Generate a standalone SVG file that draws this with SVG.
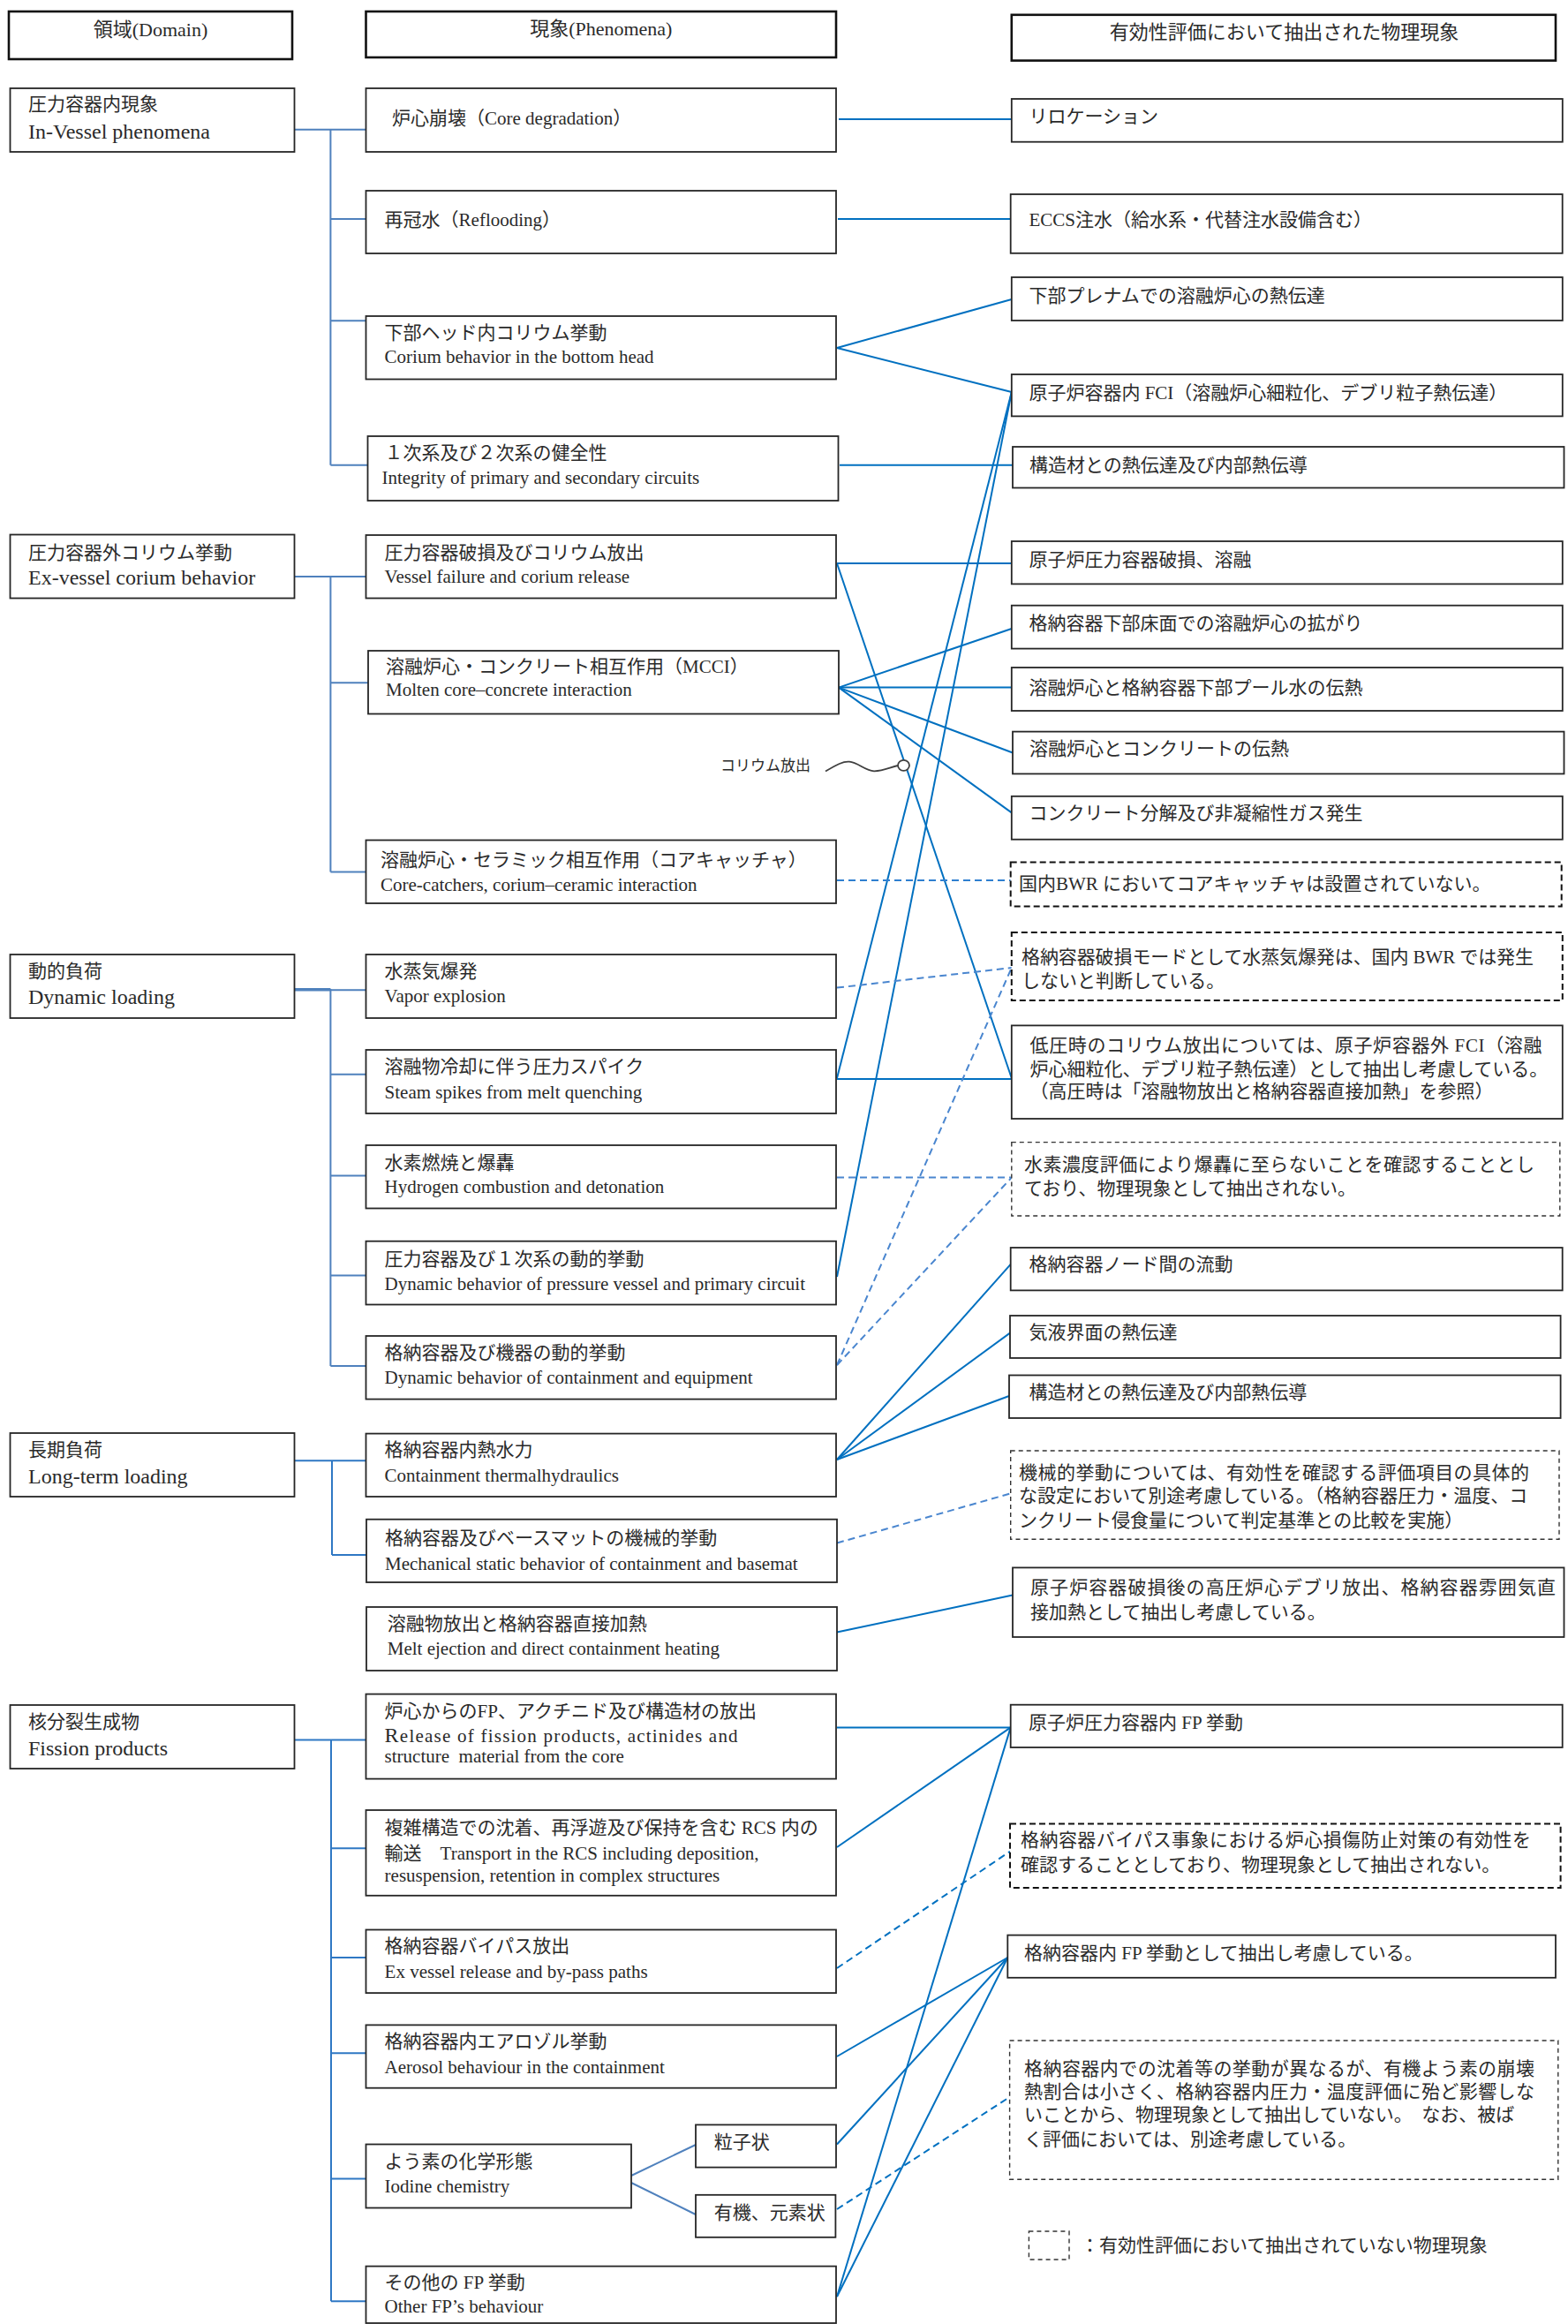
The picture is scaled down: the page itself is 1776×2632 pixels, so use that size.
<svg xmlns="http://www.w3.org/2000/svg" width="1776" height="2632" viewBox="0 0 1776 2632">
<style>
text{font-family:"Liberation Serif","Noto Sans CJK JP",serif;fill:#2a2a2a}
.b{fill:#fff;stroke:#262626;stroke-width:1.8}
.h{fill:#fff;stroke:#111;stroke-width:2.6}
.db{fill:#fff;stroke:#111;stroke-width:2;stroke-dasharray:7 4}
.df{fill:#fff;stroke:#333;stroke-width:1.4;stroke-dasharray:5 4}
.j{font-size:21px}
.dj{font-size:21px}
.de{font-size:24px}
.e{font-size:21px}
.s{font-size:17px}
.hd{font-size:22px;text-anchor:middle}
.t1{stroke:#4f81bd;stroke-width:2;fill:none}
.t2{stroke:#2f78c4;stroke-width:2;fill:none}
.c{stroke:#0070c0;stroke-width:2;fill:none}
.cd{stroke:#0070c0;stroke-width:2;fill:none;stroke-dasharray:8 5}
.cl{stroke:#4a86cf;stroke-width:2;fill:none;stroke-dasharray:8 5}
</style>

<g id="connectors">
<!-- tree lines -->
<path class="t1" d="M333.5 146.8H414.5M374.4 146.8V526.8M374.4 247.9H414.5M374.4 363.2H414.5M374.4 526.8H416.5"/>
<path class="t1" d="M333.5 652.9H414.5M374.4 652.9V987.5M374.4 773.2H417M374.4 987.5H414.5"/>
<path class="t1" d="M333.5 1120.7H374.4" style="stroke-width:3.5"/>
<path class="t1" d="M374.4 1121.3H414.5M374.4 1120V1547M374.4 1216.8H414.5M374.4 1331.4H414.5M374.4 1444.6H414.5M374.4 1547H414.5"/>
<path class="t2" d="M333.5 1654.3H414.5M376 1654.3V1761M376 1761H415"/>
<path class="t2" d="M333.5 1970.4H414.5M375 1970.4V2606.3M375 2093.2H414.5M375 2217H414.5M375 2325.3H414.5M375 2467.5H414.5M375 2606.3H414.5"/>
<path class="t1" d="M715 2464L788 2429M715 2472L788 2508"/>
<!-- solid connectors -->
<path class="c" d="M950 135H1145.8"/>
<path class="c" d="M949 247.9H1144.7"/>
<path class="c" d="M948 394L1145.8 339"/>
<path class="c" d="M948 394L1145.8 444"/>
<path class="c" d="M951 526.8H1147"/>
<path class="c" d="M948 638H1145.8"/>
<path class="c" d="M948 638L1145.8 1221"/>
<path class="c" d="M950 778.6L1145.8 712"/>
<path class="c" d="M950 778.6H1145.8"/>
<path class="c" d="M950 778.6L1147 852.5"/>
<path class="c" d="M950 778.6L1145.8 920.4"/>
<path class="c" d="M948 1221L1145.8 444"/>
<path class="c" d="M948 1222H1145.8"/>
<path class="c" d="M948 1446L1145.8 444"/>
<path class="c" d="M948 1653L1144.7 1431.8"/>
<path class="c" d="M948 1653L1144 1509.6"/>
<path class="c" d="M948 1653L1143 1581"/>
<path class="c" d="M948 1848.6L1147 1806.4"/>
<path class="c" d="M948 1956.4H1144.7"/>
<path class="c" d="M948 2092L1144.7 1956.4"/>
<path class="c" d="M948 2601L1144.7 1956.4"/>
<path class="c" d="M948 2329L1141.3 2217"/>
<path class="c" d="M948 2428.5L1141.3 2217"/>
<path class="c" d="M948 2601L1141.3 2217"/>
<!-- dashed connectors -->
<path class="cd" d="M948 997H1144.7" style="stroke:#2f7fd0"/>
<path class="cl" d="M948 1118.6L1145.8 1096"/>
<path class="cl" d="M948 1546L1145.8 1096"/>
<path class="cl" d="M948 1333.6H1145.8"/>
<path class="cl" d="M948 1546L1145.8 1333.6"/>
<path class="cl" d="M948 1747.5L1144.7 1691.4"/>
<path class="cd" d="M948 2229L1144 2096.8"/>
<path class="cd" d="M948 2502L1143.6 2374.9"/>
</g>

<g id="corium-release-note">
<text class="s" x="816" y="873">コリウム放出</text>
<path d="M935 873.5C948 866 955 862 962 862.7C972 863.5 980 873 990 873.3C1000 873.5 1008 869 1017 867" fill="none" stroke="#404040" stroke-width="1.8"/>
<ellipse cx="1023.5" cy="866.8" rx="6.5" ry="6" fill="#fff" stroke="#404040" stroke-width="1.8"/>
</g>

<!-- headers -->
<g id="hdr-domain"><rect class="h" x="10" y="13" width="321" height="54"/><text class="hd" x="170.5" y="41">領域(Domain)</text></g>
<g id="hdr-phenomena"><rect class="h" x="414.5" y="13" width="532.5" height="52"/><text class="hd" x="680.8" y="40">現象(Phenomena)</text></g>
<g id="hdr-extracted"><rect class="h" x="1145.8" y="16.8" width="616.2" height="51.8"/><text class="hd" x="1454.5" y="44">有効性評価において抽出された物理現象</text></g>

<!-- domains -->
<g id="d-invessel"><rect class="b" x="11.5" y="100" width="322" height="72"/><text class="dj" x="32" y="125">圧力容器内現象</text><text class="de" x="32" y="157">In-Vessel phenomena</text></g>
<g id="d-exvessel"><rect class="b" x="11.5" y="605.5" width="322" height="72"/><text class="dj" x="32" y="633">圧力容器外コリウム挙動</text><text class="de" x="32" y="662">Ex-vessel corium behavior</text></g>
<g id="d-dynamic"><rect class="b" x="11.5" y="1081" width="322" height="72"/><text class="dj" x="32" y="1107">動的負荷</text><text class="de" x="32" y="1137">Dynamic loading</text></g>
<g id="d-longterm"><rect class="b" x="11.5" y="1623" width="322" height="72"/><text class="dj" x="32" y="1648.5">長期負荷</text><text class="de" x="32" y="1680">Long-term loading</text></g>
<g id="d-fp"><rect class="b" x="11.5" y="1931" width="322" height="72"/><text class="dj" x="32" y="1956.5">核分裂生成物</text><text class="de" x="32" y="1988">Fission products</text></g>

<!-- phenomena -->
<g id="p-core-degradation"><rect class="b" x="414.5" y="100" width="532.5" height="72"/><text class="j" x="444" y="141">炉心崩壊（Core degradation）</text></g>
<g id="p-reflooding"><rect class="b" x="414.5" y="216" width="532.5" height="71"/><text class="j" x="435.6" y="256">再冠水（Reflooding）</text></g>
<g id="p-bottom-head"><rect class="b" x="414.5" y="358" width="532.5" height="71.5"/><text class="j" x="435.6" y="384">下部ヘッド内コリウム挙動</text><text class="e" x="435.6" y="411">Corium behavior in the bottom head</text></g>
<g id="p-integrity"><rect class="b" x="416.5" y="494" width="533" height="73"/><text class="j" x="435.6" y="520">１次系及び２次系の健全性</text><text class="e" x="432.4" y="548">Integrity of primary and secondary circuits</text></g>
<g id="p-vessel-failure"><rect class="b" x="414.5" y="606" width="532.5" height="71.5"/><text class="j" x="435.6" y="633">圧力容器破損及びコリウム放出</text><text class="e" x="435.6" y="660">Vessel failure and corium release</text></g>
<g id="p-mcci"><rect class="b" x="417" y="737" width="533" height="71.5"/><text class="j" x="437" y="761.5">溶融炉心・コンクリート相互作用（MCCI）</text><text class="e" x="437" y="788">Molten core–concrete interaction</text></g>
<g id="p-core-catcher"><rect class="b" x="414.5" y="951.5" width="532.5" height="71.5"/><text class="j" x="431" y="981">溶融炉心・セラミック相互作用（コアキャッチャ）</text><text class="e" x="431" y="1009">Core-catchers, corium–ceramic interaction</text></g>
<g id="p-vapor-explosion"><rect class="b" x="414.5" y="1081" width="532.5" height="72"/><text class="j" x="435.6" y="1107">水蒸気爆発</text><text class="e" x="435.6" y="1135">Vapor explosion</text></g>
<g id="p-steam-spikes"><rect class="b" x="414.5" y="1189" width="532.5" height="72"/><text class="j" x="435.6" y="1215">溶融物冷却に伴う圧力スパイク</text><text class="e" x="435.6" y="1244">Steam spikes from melt quenching</text></g>
<g id="p-hydrogen"><rect class="b" x="414.5" y="1297" width="532.5" height="71.5"/><text class="j" x="435.6" y="1323.5">水素燃焼と爆轟</text><text class="e" x="435.6" y="1351">Hydrogen combustion and detonation</text></g>
<g id="p-dyn-vessel"><rect class="b" x="414.5" y="1405.7" width="532.5" height="71.8"/><text class="j" x="435.6" y="1433">圧力容器及び１次系の動的挙動</text><text class="e" x="435.6" y="1460.5">Dynamic behavior of pressure vessel and primary circuit</text></g>
<g id="p-dyn-containment"><rect class="b" x="414.5" y="1513" width="532.5" height="71.6"/><text class="j" x="435.6" y="1539">格納容器及び機器の動的挙動</text><text class="e" x="435.6" y="1567">Dynamic behavior of containment and equipment</text></g>
<g id="p-thermalhydraulics"><rect class="b" x="414.5" y="1623.6" width="532.5" height="71.4"/><text class="j" x="435.6" y="1649">格納容器内熱水力</text><text class="e" x="435.6" y="1677.5">Containment thermalhydraulics</text></g>
<g id="p-mechanical"><rect class="b" x="415" y="1720.7" width="533" height="71.3"/><text class="j" x="436" y="1748.5">格納容器及びベースマットの機械的挙動</text><text class="e" x="436" y="1777.5">Mechanical static behavior of containment and basemat</text></g>
<g id="p-dch"><rect class="b" x="415" y="1820" width="533" height="72"/><text class="j" x="438.8" y="1845.5">溶融物放出と格納容器直接加熱</text><text class="e" x="438.8" y="1874">Melt ejection and direct containment heating</text></g>
<g id="p-fp-release"><rect class="b" x="414.5" y="1918.6" width="532.5" height="96"/><text class="j" x="435.6" y="1945">炉心からのFP、アクチニド及び構造材の放出</text><text class="e" x="435.6" y="1973" textLength="400" lengthAdjust="spacing"><tspan style="font-size:24px">R</tspan>elease of fission products, actinides and</text><text class="e" x="435.6" y="1996" style="white-space:pre">structure  material from the core</text></g>
<g id="p-rcs-transport"><rect class="b" x="414.5" y="2050" width="532.5" height="96.8"/><text class="j" x="435.6" y="2077">複雑構造での沈着、再浮遊及び保持を含む RCS 内の</text><text class="j" x="435.6" y="2105.5">輸送　<tspan class="e">Transport in the RCS including deposition,</tspan></text><text class="e" x="435.6" y="2130.5">resuspension, retention in complex structures</text></g>
<g id="p-bypass"><rect class="b" x="414.5" y="2185.5" width="532.5" height="71.6"/><text class="j" x="435.6" y="2210.5">格納容器バイパス放出</text><text class="e" x="435.6" y="2240">Ex vessel release and by-pass paths</text></g>
<g id="p-aerosol"><rect class="b" x="414.5" y="2293.4" width="532.5" height="71.3"/><text class="j" x="435.6" y="2319">格納容器内エアロゾル挙動</text><text class="e" x="435.6" y="2348">Aerosol behaviour in the containment</text></g>
<g id="p-iodine"><rect class="b" x="414.5" y="2428.5" width="300.5" height="72"/><text class="j" x="435.6" y="2455">よう素の化学形態</text><text class="e" x="435.6" y="2483">Iodine chemistry</text></g>
<g id="p-iodine-particulate"><rect class="b" x="788" y="2406.4" width="159" height="48.2"/><text class="j" x="808.7" y="2433">粒子状</text></g>
<g id="p-iodine-organic"><rect class="b" x="788" y="2485.8" width="158.4" height="48"/><text class="j" x="808.7" y="2513">有機、元素状</text></g>
<g id="p-other-fp"><rect class="b" x="414.5" y="2566.6" width="532.5" height="64.4"/><text class="j" x="435.6" y="2592">その他の FP 挙動</text><text class="e" x="435.6" y="2618.5">Other FP’s behaviour</text></g>

<!-- extracted phenomena -->
<g id="r-relocation"><rect class="b" x="1145.8" y="112" width="624" height="48.7"/><text class="j" x="1165.4" y="139">リロケーション</text></g>
<g id="r-eccs"><rect class="b" x="1144.7" y="220" width="625" height="66.8"/><text class="j" x="1165.4" y="256">ECCS注水（給水系・代替注水設備含む）</text></g>
<g id="r-lower-plenum"><rect class="b" x="1145.8" y="314" width="624" height="49"/><text class="j" x="1165.4" y="341.6">下部プレナムでの溶融炉心の熱伝達</text></g>
<g id="r-invessel-fci"><rect class="b" x="1145.8" y="424" width="624" height="47.4"/><text class="j" x="1165.4" y="452">原子炉容器内 FCI（溶融炉心細粒化、デブリ粒子熱伝達）</text></g>
<g id="r-structure-heat"><rect class="b" x="1147" y="506" width="624.5" height="46.5"/><text class="j" x="1166" y="534">構造材との熱伝達及び内部熱伝導</text></g>
<g id="r-rpv-failure"><rect class="b" x="1145.8" y="613" width="624" height="48.4"/><text class="j" x="1165.4" y="641">原子炉圧力容器破損、溶融</text></g>
<g id="r-spreading"><rect class="b" x="1145.8" y="685.7" width="624" height="48.9"/><text class="j" x="1165.4" y="713">格納容器下部床面での溶融炉心の拡がり</text></g>
<g id="r-pool-heat"><rect class="b" x="1145.8" y="756" width="624" height="49"/><text class="j" x="1165.4" y="786">溶融炉心と格納容器下部プール水の伝熱</text></g>
<g id="r-concrete-heat"><rect class="b" x="1147" y="828.6" width="624.5" height="47.8"/><text class="j" x="1166" y="855">溶融炉心とコンクリートの伝熱</text></g>
<g id="r-concrete-gas"><rect class="b" x="1145.8" y="901.8" width="624" height="48.9"/><text class="j" x="1165.4" y="928">コンクリート分解及び非凝縮性ガス発生</text></g>
<g id="r-no-core-catcher"><rect class="db" x="1144.7" y="976.4" width="624" height="50"/><text class="j" x="1154" y="1008">国内BWR においてコアキャッチャは設置されていない。</text></g>
<g id="r-no-steam-explosion"><rect class="db" x="1145.8" y="1056" width="624" height="77"/><text class="j" x="1157" y="1091" textLength="580" lengthAdjust="spacing">格納容器破損モードとして水蒸気爆発は、国内 BWR では発生</text><text class="j" x="1157" y="1117.5">しないと判断している。</text></g>
<g id="r-exvessel-fci"><rect class="b" x="1145.8" y="1161.4" width="624" height="105.6"/><text class="j" x="1166.5" y="1190.5" textLength="580" lengthAdjust="spacing">低圧時のコリウム放出については、原子炉容器外 FCI（溶融</text><text class="j" x="1166.5" y="1218">炉心細粒化、デブリ粒子熱伝達）として抽出し考慮している。</text><text class="j" x="1166.5" y="1243">（高圧時は「溶融物放出と格納容器直接加熱」を参照）</text></g>
<g id="r-no-detonation"><rect class="df" x="1145.8" y="1293.6" width="621" height="83.4"/><text class="j" x="1160" y="1325.5" textLength="578" lengthAdjust="spacing">水素濃度評価により爆轟に至らないことを確認することとし</text><text class="j" x="1160" y="1353">ており、物理現象として抽出されない。</text></g>
<g id="r-node-flow"><rect class="b" x="1144.7" y="1413" width="625" height="48.4"/><text class="j" x="1165.4" y="1439">格納容器ノード間の流動</text></g>
<g id="r-interface-heat"><rect class="b" x="1144" y="1490" width="623.6" height="48"/><text class="j" x="1165.4" y="1515.5">気液界面の熱伝達</text></g>
<g id="r-structure-heat-2"><rect class="b" x="1143" y="1557.5" width="624.6" height="48.5"/><text class="j" x="1165.4" y="1583.5">構造材との熱伝達及び内部熱伝導</text></g>
<g id="r-mechanical-note"><rect class="df" x="1144.7" y="1643" width="621.3" height="100.2"/><text class="j" x="1154" y="1675" textLength="578" lengthAdjust="spacing">機械的挙動については、有効性を確認する評価項目の具体的</text><text class="j" x="1154" y="1701">な設定において別途考慮している。（格納容器圧力・温度、コ</text><text class="j" x="1154" y="1729">ンクリート侵食量について判定基準との比較を実施）</text></g>
<g id="r-dch"><rect class="b" x="1147" y="1775.4" width="624.5" height="78.6"/><text class="j" x="1167" y="1804.5" textLength="595" lengthAdjust="spacing">原子炉容器破損後の高圧炉心デブリ放出、格納容器雰囲気直</text><text class="j" x="1167" y="1832.5">接加熱として抽出し考慮している。</text></g>
<g id="r-rpv-fp"><rect class="b" x="1144.7" y="1930.7" width="625" height="48.3"/><text class="j" x="1165" y="1957.5">原子炉圧力容器内 FP 挙動</text></g>
<g id="r-bypass-note"><rect class="db" x="1144" y="2065.4" width="623.6" height="72.6"/><text class="j" x="1156" y="2091" textLength="578" lengthAdjust="spacing">格納容器バイパス事象における炉心損傷防止対策の有効性を</text><text class="j" x="1156" y="2119">確認することとしており、物理現象として抽出されない。</text></g>
<g id="r-cv-fp"><rect class="b" x="1141.3" y="2191.6" width="620.7" height="48.2"/><text class="j" x="1160" y="2219">格納容器内 FP 挙動として抽出し考慮している。</text></g>
<g id="r-organic-iodine-note"><rect class="df" x="1143.6" y="2311" width="621.2" height="157.2"/><text class="j" x="1160" y="2349.5" textLength="578" lengthAdjust="spacing">格納容器内での沈着等の挙動が異なるが、有機よう素の崩壊</text><text class="j" x="1160" y="2375.5" textLength="578" lengthAdjust="spacing">熱割合は小さく、格納容器内圧力・温度評価に殆ど影響しな</text><text class="j" x="1160" y="2402">いことから、物理現象として抽出していない。　なお、被ば</text><text class="j" x="1160" y="2429.5">く評価においては、別途考慮している。</text></g>

<g id="legend"><rect class="df" x="1165.4" y="2527" width="45.6" height="32"/><text class="j" x="1224" y="2550">：有効性評価において抽出されていない物理現象</text></g>
</svg>
